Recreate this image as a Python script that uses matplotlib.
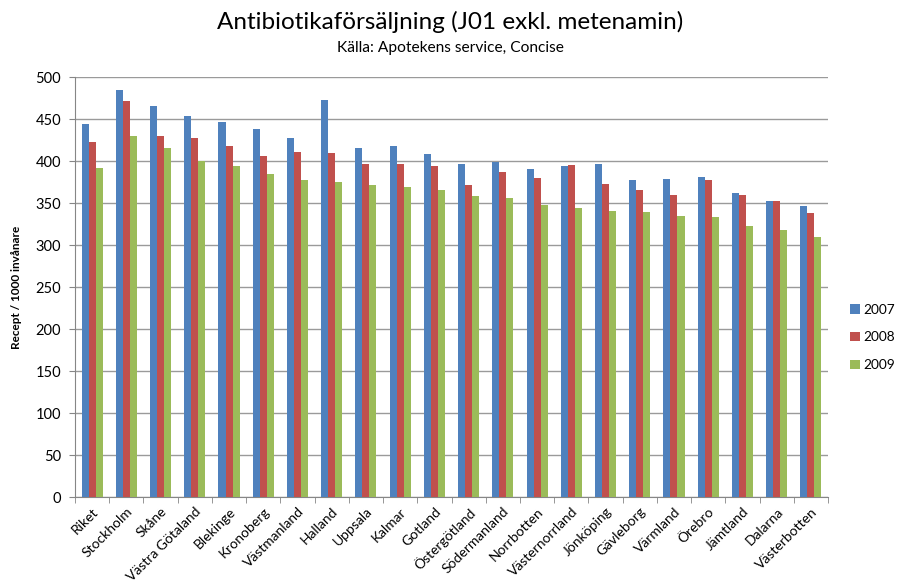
import numpy as np
import matplotlib.pyplot as plt
from matplotlib.ticker import FixedLocator

regions = ["Riket", "Stockholm", "Skåne", "Västra Götaland", "Blekinge", "Kronoberg",
           "Västmanland", "Halland", "Uppsala", "Kalmar", "Gotland", "Östergötland",
           "Södermanland", "Norrbotten", "Västernorrland", "Jönköping", "Gävleborg",
           "Värmland", "Örebro", "Jämtland", "Dalarna", "Västerbotten"]

y2007 = [444, 485, 466, 454, 446, 438, 427, 473, 416, 418, 408, 396,
         399, 391, 394, 397, 377, 378, 381, 362, 352, 346]
y2008 = [423, 472, 430, 427, 418, 406, 411, 409, 396, 396, 394, 371,
         387, 380, 395, 373, 365, 359, 377, 359, 352, 338]
y2009 = [392, 430, 415, 400, 394, 385, 377, 375, 372, 369, 366, 358,
         356, 348, 344, 341, 339, 335, 333, 323, 318, 310]

years = ["2007", "2008", "2009"]
colors = ["#4F81BD", "#C0504D", "#9BBB59"]

plt.rcParams['font.family'] = ['Lato', 'DejaVu Sans']

fig = plt.figure(figsize=(8.97, 5.83), dpi=100)
ax = fig.add_axes([0.0836, 0.1475, 0.8395, 0.7204])

x = np.arange(len(regions))
width = 0.205
for i, (vals, lab, c) in enumerate(zip([y2007, y2008, y2009], years, colors)):
    ax.bar(x + (i - 1) * width, vals, width=width, color=c, label=lab, zorder=3)

ax.set_xlim(-0.5, len(regions) - 0.5)
ax.set_ylim(0, 500)
ax.set_yticks(np.arange(0, 501, 50))
ax.tick_params(axis='y', labelsize=10.5, length=4, color='#868686', pad=6)
ax.grid(True, axis='y', color='#9a9a9a', linewidth=1, zorder=0)

ax.set_xticks(x)
ax.set_xticklabels(regions, rotation=45, ha='right', rotation_mode='anchor', fontsize=10)
ax.tick_params(axis='x', which='major', length=0, pad=6)
ax.xaxis.set_minor_locator(FixedLocator(np.arange(-0.5, len(regions), 1)))
ax.tick_params(axis='x', which='minor', length=4, color='#868686')

for s in ['top', 'right']:
    ax.spines[s].set_visible(False)
ax.spines['left'].set_color('#868686')
ax.spines['bottom'].set_color('#868686')

ax.set_ylabel("Recept / 1000 invånare", fontsize=8.5, fontweight='bold', labelpad=10)

fig.text(0.502, 0.962, "Antibiotikaförsäljning (J01 exkl. metenamin)", ha='center', va='center', fontsize=17.5)
fig.text(0.502, 0.918, "Källa: Apotekens service, Concise", ha='center', va='center', fontsize=11.2)

ax.legend(loc='center left', bbox_to_anchor=(1.013, 0.38), frameon=False, fontsize=9.8,
          handlelength=0.7, handleheight=0.7, handletextpad=0.3, labelspacing=1.15)

fig.savefig("out.png", dpi=100)
